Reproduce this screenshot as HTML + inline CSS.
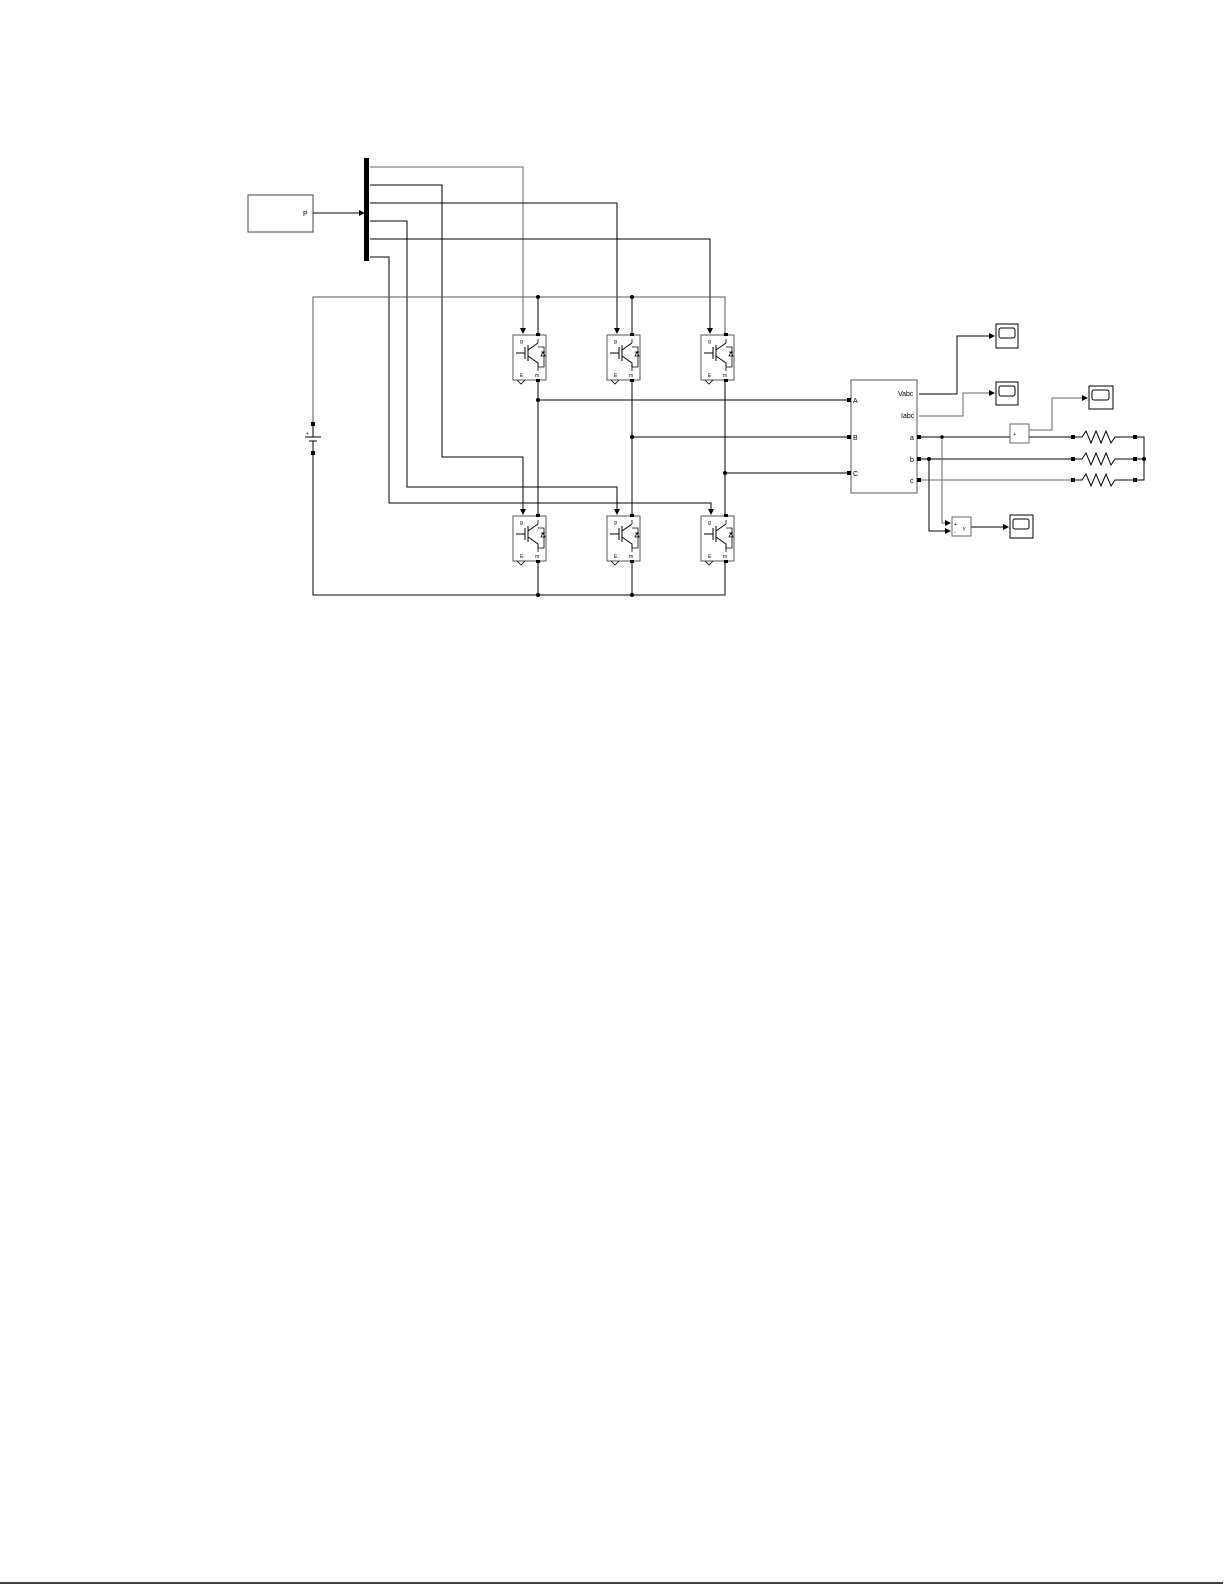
<!DOCTYPE html>
<html><head><meta charset="utf-8"><style>
html,body{margin:0;padding:0;background:#fff;}
svg{display:block;}
text{font-family:"Liberation Sans",sans-serif;}
</style></head><body>
<svg width="1225" height="1585" viewBox="0 0 1225 1585" xmlns="http://www.w3.org/2000/svg">
<defs>
<g id="igbt">
 <rect x="0" y="0" width="33" height="45" fill="#fff" stroke="#555" stroke-width="1"/>
 <text x="7" y="8" font-size="5">g</text>
 <text x="7" y="42" font-size="5">E</text>
 <text x="22" y="42" font-size="5">m</text>
 <path d="M3 18 H12 M12 12 V24 M15 10 V26 M15 15 L25 8 M15 21 L25 28 V32" stroke="#000" fill="none" stroke-width="1"/>
 <path d="M25 4 V8 M25 32 V36 M25 12 H31 V32 H25 M28 17 H32 M28 21 H32 L30 17 Z" stroke="#000" fill="none" stroke-width="0.8"/>
 <path d="M4 45 L8 49 L12 45" stroke="#000" fill="none" stroke-width="0.8"/>
 <rect x="23" y="-2" width="4" height="3" fill="#000"/>
 <rect x="23" y="44" width="4" height="3" fill="#000"/>
</g>
<marker id="ar" markerWidth="6" markerHeight="6" refX="5" refY="3" orient="auto" markerUnits="userSpaceOnUse"><path d="M0 0 L6 3 L0 6 Z" fill="#000"/></marker>
</defs>
<g fill="none" stroke="#000" stroke-width="1">
 <!-- pulse gen -->
 <rect x="248" y="195" width="65" height="37" stroke="#444"/>
 <line x1="313" y1="213" x2="364" y2="213" marker-end="url(#ar)"/>
 <!-- gate lines -->
 <path d="M370 167 H523 V333" stroke="#666" marker-end="url(#ar)"/>
 <path d="M370 185 H442 V457 H523 V514" marker-end="url(#ar)"/>
 <path d="M370 203 H617 V333" marker-end="url(#ar)"/>
 <path d="M370 221 H407 V487 H617 V514" marker-end="url(#ar)"/>
 <path d="M370 239 H710 V333" marker-end="url(#ar)"/>
 <path d="M370 257 H389 V503 H711 V514" marker-end="url(#ar)"/>
 <!-- DC rails -->
 <path d="M313 424 V297 H725 V333" stroke="#555"/>
 <path d="M538 297 V333 M632 297 V333"/>
 <path d="M313 453 V595 H725 V562"/>
 <path d="M538 595 V562 M632 595 V562"/>
 <!-- phase legs -->
 <path d="M538 382 V514 M632 382 V514 M725 382 V514"/>
 <path d="M538 400 H849 M632 437 H849 M725 473 H849"/>
 <!-- measurement block -->
 <rect x="851" y="380" width="66" height="113" stroke="#555"/>
 <path d="M919 394 H957 V336 H994" marker-end="url(#ar)"/>
 <path d="M919 416 H963 V393 H994" stroke="#666" marker-end="url(#ar)"/>
 <path d="M1029 430 H1052 V398 H1087" stroke="#666" marker-end="url(#ar)"/>
 <path d="M919 437 H1010 M1029 437 H1073"/>
 <path d="M919 459 H1073"/>
 <path d="M919 480 H1073" stroke="#666"/>
 <path d="M942 437 V523 H950" stroke="#666" marker-end="url(#ar)"/>
 <path d="M929 459 V531 H950" marker-end="url(#ar)"/>
 <path d="M971 527 H1008" marker-end="url(#ar)"/>
 <!-- resistors -->
 <path d="M1075 437 H1082 L1086 431 L1091 443 L1096 431 L1101 443 L1106 431 L1111 443 L1115 437 H1133"/>
 <path d="M1075 459 H1082 L1086 453 L1091 465 L1096 453 L1101 465 L1106 453 L1111 465 L1115 459 H1133"/>
 <path d="M1075 480 H1082 L1086 474 L1091 486 L1096 474 L1101 486 L1106 474 L1111 486 L1115 480 H1133"/>
 <path d="M1137 437 H1144 V480 H1137 M1137 459 H1144"/>
 <!-- meters -->
 <rect x="1010" y="424" width="19" height="19" stroke="#666"/>
 <rect x="952" y="517" width="19" height="19" stroke="#666"/>
 <!-- scopes -->
 <rect x="996" y="324" width="22" height="24"/><rect x="999" y="328" width="16" height="10" rx="2"/>
 <rect x="996" y="382" width="22" height="23"/><rect x="999" y="386" width="16" height="10" rx="2"/>
 <rect x="1089" y="386" width="24" height="23"/><rect x="1092" y="390" width="17" height="10" rx="2"/>
 <rect x="1010" y="515" width="23" height="23"/><rect x="1013" y="519" width="16" height="10" rx="2"/>
 <!-- battery -->
 <path d="M305 437 H321 M309 441 H317 M313 437 V424 M313 441 V453"/>
</g>
<rect x="364" y="158" width="5" height="103" fill="#000"/>
<text x="303" y="216" font-size="7">P</text>
<use href="#igbt" x="513" y="335"/>
<use href="#igbt" x="607" y="335"/>
<use href="#igbt" x="701" y="335"/>
<use href="#igbt" x="513" y="516"/>
<use href="#igbt" x="607" y="516"/>
<use href="#igbt" x="701" y="516"/>
<g fill="#000">
 <circle cx="538" cy="297" r="2"/><circle cx="632" cy="297" r="2"/>
 <circle cx="538" cy="595" r="2"/><circle cx="632" cy="595" r="2"/>
 <circle cx="538" cy="400" r="2"/><circle cx="632" cy="437" r="2"/><circle cx="725" cy="473" r="2"/>
 <circle cx="942" cy="437" r="1.8"/><circle cx="929" cy="459" r="2"/><circle cx="1144" cy="459" r="2"/>
 <rect x="311" y="422" width="4" height="4"/><rect x="311" y="451" width="4" height="4"/>
 <rect x="847" y="398" width="4" height="4"/><rect x="847" y="435" width="4" height="4"/><rect x="847" y="471" width="4" height="4"/>
 <rect x="917" y="435" width="4" height="4"/><rect x="917" y="457" width="4" height="4"/><rect x="917" y="478" width="4" height="4"/>
 <rect x="1071" y="435" width="4" height="4"/><rect x="1071" y="457" width="4" height="4"/><rect x="1071" y="478" width="4" height="4"/>
 <rect x="1133" y="435" width="4" height="4"/><rect x="1133" y="457" width="4" height="4"/><rect x="1133" y="478" width="4" height="4"/>
</g>
<g font-size="7" fill="#000">
 <text x="853" y="403">A</text><text x="853" y="440">B</text><text x="853" y="476">C</text>
 <text x="898" y="396">Vabc</text><text x="901" y="418">Iabc</text>
 <text x="910" y="440">a</text><text x="910" y="462">b</text><text x="910" y="483">c</text>
 <text x="1013" y="436" font-size="5">+</text>
 <text x="954" y="526" font-size="5">+</text><text x="954" y="534" font-size="5">-</text><text x="963" y="530" font-size="5">v</text>
 <text x="306" y="435" font-size="5">+</text>
</g>
<line x1="0" y1="1583" x2="1223" y2="1583" stroke="#000" stroke-width="1.5"/>
</svg>
</body></html>
